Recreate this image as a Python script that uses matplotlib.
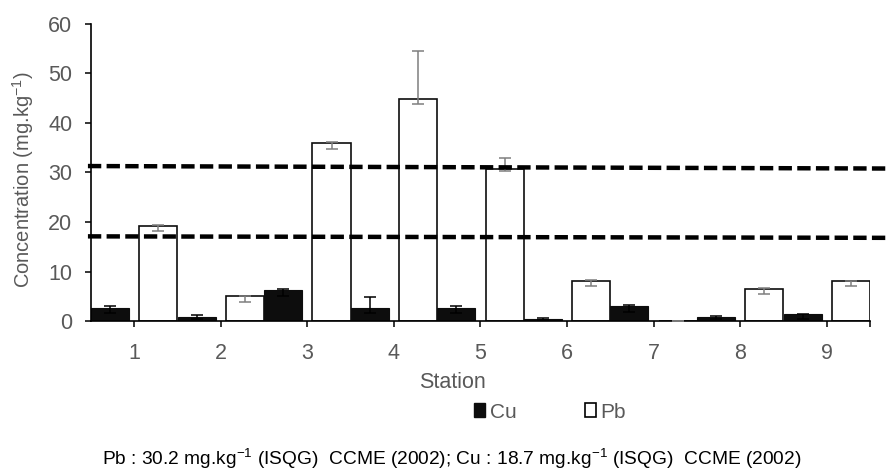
import matplotlib
matplotlib.use("Agg")
import matplotlib.pyplot as plt
from matplotlib.patches import Patch
import numpy as np

plt.rcParams['font.family'] = ['Liberation Sans', 'DejaVu Sans']

stations = [1, 2, 3, 4, 5, 6, 7, 8, 9]
cu = [2.7, 0.85, 6.2, 2.6, 2.7, 0.5, 2.95, 0.75, 1.35]
cu_lo = [1.6, 0.5, 5.1, 1.55, 1.6, 0.3, 1.8, 0.4, 0.35]
cu_hi = [3.0, 1.2, 6.5, 4.8, 3.0, 0.6, 3.2, 0.95, 1.5]
pb = [19.25, 5.05, 35.9, 44.8, 30.7, 8.1, 0.1, 6.5, 8.1]
pb_lo = [18.2, 3.9, 34.8, 43.8, 30.2, 7.1, 0.1, 5.45, 7.1]
pb_hi = [19.4, 5.1, 36.2, 54.5, 32.9, 8.3, 0.1, 6.7, 8.15]
# guideline levels as drawn (left end, right end)
pb_guide = [31.3, 30.8]
cu_guide = [17.1, 16.8]
footnote = "Pb : 30.2 mg.kg$^{\\mathregular{-1}}$ (ISQG)  CCME (2002); Cu : 18.7 mg.kg$^{\\mathregular{-1}}$ (ISQG)  CCME (2002)"

grey = '#595959'
x = np.array(stations, dtype=float)
w = 0.44

fig = plt.figure(figsize=(8.9, 4.7), dpi=100)
ax = fig.add_axes([0.1022, 0.317, 0.8753, 0.632])

cu_err = [np.array(cu) - np.array(cu_lo), np.array(cu_hi) - np.array(cu)]
pb_err = [np.array(pb) - np.array(pb_lo), np.array(pb_hi) - np.array(pb)]

ax.bar(x - 0.279, cu, w, color='#0d0d0d', edgecolor='#0d0d0d', linewidth=0.8, zorder=2)
ax.bar(x + 0.279, pb, w, color='white', edgecolor='#0d0d0d', linewidth=1.2, zorder=2)
ax.errorbar(x - 0.279, cu, yerr=cu_err, fmt='none', ecolor='black', elinewidth=1.1,
            capsize=4.5, capthick=1.1, zorder=3)
ax.errorbar(x + 0.279, pb, yerr=pb_err, fmt='none', ecolor='#7f7f7f', elinewidth=1.1,
            capsize=4.5, capthick=1.1, zorder=3)

gx = [0.465, 9.70]
for g in (pb_guide, cu_guide):
    ax.plot(gx, g, color='black', lw=3.2, dashes=(3, 1.2), dash_capstyle='butt',
            clip_on=False, zorder=4)

ax.set_xlim(0.5, 9.5)
ax.set_ylim(0, 60)
ax.set_yticks(range(0, 61, 10))
ax.set_xticks(stations + [9.5])
ax.set_xticklabels([str(s) for s in stations] + [''])
for s in ('top', 'right'):
    ax.spines[s].set_visible(False)
for s in ('left', 'bottom'):
    ax.spines[s].set_linewidth(1.2)
    ax.spines[s].set_color('black')
ax.tick_params(axis='both', direction='out', length=4.5, width=1.1, color='black',
               labelcolor=grey, labelsize=15.5)
ax.tick_params(axis='x', pad=11)
ax.tick_params(axis='y', pad=9)

fig.text(0.026, 0.617, "Concentration (mg.kg$^{\\mathregular{-1}}$)", rotation=90,
         ha='center', va='center', color=grey, fontsize=14.5)
fig.text(0.508, 0.187, "Station", ha='center', va='center', color=grey, fontsize=15.5)

handles = [Patch(facecolor='#0d0d0d', edgecolor='#0d0d0d'),
           Patch(facecolor='white', edgecolor='black', linewidth=1.2)]
fig.legend(handles, ['Cu', 'Pb'], loc='center', bbox_to_anchor=(0.618, 0.123), ncol=2,
           frameon=False, fontsize=15, labelcolor=grey, handlelength=0.55,
           handleheight=0.65, handletextpad=0.2, columnspacing=3.3)

fig.text(0.507, 0.024, footnote, ha='center', va='center', color='black', fontsize=13.8)

fig.savefig("out.png", dpi=100)
